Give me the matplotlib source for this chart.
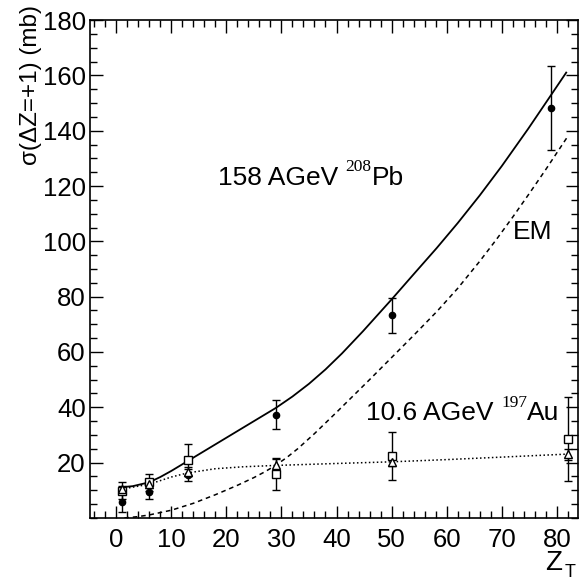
import matplotlib
matplotlib.use("Agg")
import matplotlib.pyplot as plt
from matplotlib.ticker import MultipleLocator

plt.rcParams['font.family'] = ['Liberation Sans', 'DejaVu Sans']

# 158 AGeV 208Pb data (filled circles)
pb_z = [1, 6, 13, 29, 50, 79]
pb_sig = [5.7, 9.3, 15.5, 37.4, 73.3, 148.3]
pb_err = [3.6, 2.5, 2.3, 5.3, 6.3, 15.2]

# 10.6 AGeV 197Au data (open squares)
au_sq_z = [1, 6, 13, 29, 50, 82]
au_sq_sig = [9.9, 12.9, 20.9, 15.9, 22.4, 28.4]
au_sq_err = [3.0, 3.0, 5.7, 5.8, 8.6, 15.2]

# 10.6 AGeV 197Au data (open triangles)
au_tr_z = [1, 6, 13, 29, 50, 82]
au_tr_sig = [10.6, 12.2, 16.8, 19.1, 20.3, 23.0]
au_tr_err = [1.0, 1.2, 1.5, 2.4, 1.5, 2.0]

# total fit curve for Pb (solid)
fit_pb_z = [0.9, 3, 6, 8, 10, 13, 16, 20, 24, 29, 32, 35, 38, 41, 44.8, 50,
            54, 58.2, 62, 66, 70, 74.8, 78, 81.7]
fit_pb_s = [11.1, 11.5, 12.9, 14.8, 17.0, 20.6, 24.2, 29.0, 33.8, 39.8, 43.9,
            48.5, 53.7, 59.5, 67.5, 79.0, 88.1, 97.6, 106.6, 116.6, 127.2,
            140.7, 150.1, 161.0]

# EM contribution (dashed)
em_z = [1.5, 4, 6, 10, 14, 18, 22, 25, 27, 29, 31, 33, 36, 40, 46, 50, 54,
        58.2, 62, 66, 69, 72, 75, 78, 81.8]
em_s = [0.0, 0.5, 1.1, 2.8, 5.3, 8.4, 11.8, 14.6, 16.7, 19.1, 21.9, 25.1,
        30.5, 38.2, 50.0, 58.0, 66.0, 74.6, 83.0, 92.8, 100.6, 108.8, 117.3,
        126.0, 137.4]

# fit for Au (dotted)
fit_au_z = [0.9, 6, 10, 13, 18, 23, 29, 40, 50, 60, 70, 82]
fit_au_s = [10.4, 12.2, 14.8, 16.3, 17.8, 18.5, 19.0, 19.7, 20.3, 21.1, 22.0, 23.1]

fig = plt.figure(figsize=(5.83, 5.82), dpi=100)
ax = fig.add_axes([0.1544, 0.110, 0.8376, 0.8556])

ax.plot(fit_pb_z, fit_pb_s, '-', color='black', lw=1.3)
ax.plot(em_z, em_s, '--', color='black', lw=1.1, dashes=(3, 2.5))
ax.plot(fit_au_z, fit_au_s, color='black', lw=1.1, dashes=(1, 1.6))

ax.errorbar(pb_z, pb_sig, yerr=pb_err, fmt='o', color='black', ms=4.5,
            ecolor='black', elinewidth=1.0, capsize=3, capthick=1.0)
ax.errorbar(au_sq_z, au_sq_sig, yerr=au_sq_err, fmt='s', mfc='white', mec='black',
            ms=6, mew=1.0, ecolor='black', elinewidth=1.0, capsize=3, capthick=1.0)
ax.errorbar(au_tr_z, au_tr_sig, yerr=au_tr_err, fmt='^', mfc='white', mec='black',
            ms=5.5, mew=1.0, ecolor='black', elinewidth=1.0, capsize=3, capthick=1.0)

ax.set_xlim(-4.75, 83.9)
ax.set_ylim(0, 180)
ax.xaxis.set_major_locator(MultipleLocator(10))
ax.xaxis.set_minor_locator(MultipleLocator(2))
ax.yaxis.set_major_locator(MultipleLocator(20))
ax.yaxis.set_minor_locator(MultipleLocator(5))
ax.set_yticks([20, 40, 60, 80, 100, 120, 140, 160, 180])
ax.tick_params(which='both', direction='in', top=True, right=True, labelsize=18.5, width=1.0)
ax.tick_params(which='major', length=9)
ax.tick_params(which='minor', length=5)
ax.tick_params(axis='x', pad=7)
ax.tick_params(axis='y', pad=3)
for sp in ax.spines.values():
    sp.set_linewidth(1.2)

serif = ['Liberation Serif', 'DejaVu Serif']

t1 = ax.text(18.5, 123.0, "158 AGeV ", fontsize=19, va='center', ha='left')
t2 = ax.annotate("208", xy=(1, 0.60), xycoords=t1, fontsize=12.5, family=serif,
                 va='bottom', ha='left')
t3 = ax.annotate("Pb", xy=(1, 0), xycoords=(t2, t1), fontsize=19,
                 va='bottom', ha='left')

u1 = ax.text(45.4, 37.9, "10.6 AGeV ", fontsize=19, va='center', ha='left')
u2 = ax.annotate("197", xy=(1, 0.60), xycoords=u1, fontsize=12.5, family=serif,
                 va='bottom', ha='left')
u3 = ax.annotate("Au", xy=(1, 0), xycoords=(u2, u1), fontsize=19,
                 va='bottom', ha='left')

ax.text(72, 103.5, "EM", fontsize=19, va='center', ha='left')

fig.text(0.053, 0.991, "σ(ΔZ=+1) (mb)", rotation=90, fontsize=17.5,
         va='top', ha='center')
fig.text(0.935, 0.020, "Z", fontsize=20, va='baseline', ha='left')
fig.text(0.968, 0.008, "T", fontsize=13, va='baseline', ha='left')

fig.savefig("out.png", dpi=100)
